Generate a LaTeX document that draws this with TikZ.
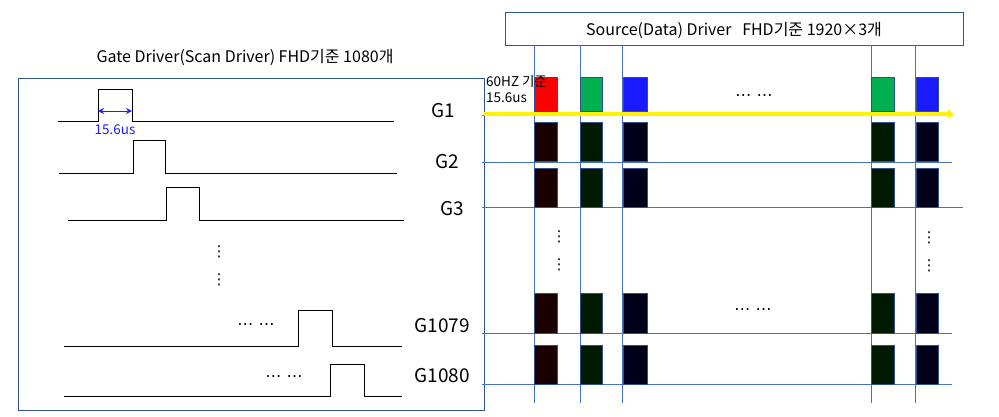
\documentclass[tikz,border=0pt]{standalone}
\usepackage{fontspec}
\setmainfont{Noto Sans CJK KR}
\newfontfamily\symfont{DejaVu Sans}
\usetikzlibrary{arrows.meta}

\definecolor{gridc}{HTML}{4472C4}
\definecolor{framec}{HTML}{2F5597}
\definecolor{cellc}{HTML}{2F528F}
\definecolor{rr}{HTML}{FF0000}
\definecolor{gg}{HTML}{00B050}
\definecolor{bb}{HTML}{1A1AFF}
\definecolor{dr}{HTML}{1A0000}
\definecolor{dg}{HTML}{001A00}
\definecolor{db}{HTML}{00001A}
\definecolor{pulsec}{HTML}{1F1FFF}

\tikzset{
  frame/.style={draw=framec, line width=0.9pt},
  grid line/.style={draw=gridc, line width=0.8pt},
  cell/.style={draw=cellc, line width=0.8pt},
  title/.style={font=\fontsize{16}{18}\selectfont, inner sep=0pt},
  glabel/.style={font=\fontsize{19}{21}\selectfont, inner sep=0pt},
  small/.style={font=\fontsize{13.5}{15}\selectfont, inner sep=0pt},
  vdots/.style={font=\symfont\fontsize{15}{15}\selectfont, inner sep=0pt},
  hdots/.style={font=\symfont\fontsize{16}{16}\selectfont, inner sep=0pt}
}

\begin{document}
\begin{tikzpicture}[x=1pt, y=-1pt]
  \useasboundingbox (0,0) rectangle (999,416);

  % Gate driver side
  \draw[frame] (18,78) rectangle (484,410);
  \node[title] (gtitle) at (245,57) {Gate Driver(Scan Driver) FHD기준 1080개};

  % Gate pulses
  \foreach \yb/\yh/\xa/\xr/\xf/\xb in {121/89/58/98/132/394, 173/140/59/133/165/397,
      220/187/68/166/199/404, 346/310/64/298/332/402, 396/364/64/330/364/402}
    \draw[line width=0.8pt] (\xa,\yb) -- (\xr,\yb) -- (\xr,\yh) -- (\xf,\yh) -- (\xf,\yb) -- (\xb,\yb);

  % Pulse width
  \coordinate (pl) at (98,111);
  \coordinate (pr) at (132,111);
  \draw[pulsec, line width=1pt, {Stealth[length=6pt, width=6pt]}-{Stealth[length=6pt, width=6pt]}] (pl) -- (pr);
  \node[small, text=pulsec] (pw) at (115,130) {15.6us};

  % Gate labels
  \node[glabel] (g1) at (443,111) {G1};
  \node[glabel] (g2) at (447,162) {G2};
  \node[glabel] (g3) at (452,209) {G3};
  \node[glabel] (g1079) at (442,326) {G1079};
  \node[glabel] (g1080) at (442,376) {G1080};

  \node[vdots] (gv1) at (219,252) {⋮};
  \node[vdots] (gv2) at (219,280) {⋮};
  \node[hdots] (gh1) at (256,327) {⋯ ⋯};
  \node[hdots] (gh2) at (284,379) {⋯ ⋯};

  % Source driver side
  \draw[frame] (505,12) rectangle (963,45);
  \node[title] (stitle) at (734,30) {Source(Data) Driver\ \ \ FHD기준 1920×3개};

  \foreach \x in {534,580,622,871,915}
    \draw[grid line] (\x,45) -- (\x,403);
  \foreach \y/\xe in {115/952, 162/952, 207/963, 333/952, 384/952}
    \draw[grid line] (482,\y) -- (\xe,\y);

  % Pixel cells
  \foreach \xa/\xb/\c in {534/557/rr, 580/602/gg, 623/647/bb, 871/894/gg, 916/938/bb}
    \draw[cell, fill=\c] (\xa,77) rectangle (\xb,111);
  \foreach \ya/\yb in {122/161, 168/207, 293/333, 345/384}
    \foreach \xa/\xb/\c in {534/557/dr, 580/602/dg, 623/647/db, 871/894/dg, 916/938/db}
      \draw[cell, fill=\c] (\xa,\ya) rectangle (\xb,\yb);

  % Scan direction
  \coordinate (ys) at (484,114);
  \coordinate (ye) at (954,114);
  \draw[yellow, line width=4.5pt, -{Triangle[length=6pt, width=9pt]}] (ys) -- (ye);

  \node[small, anchor=west] (hz) at (486,81) {60HZ 기준};
  \node[small, anchor=west] (hzt) at (486,98) {15.6us};

  \node[vdots] (sv1) at (559,237) {⋮};
  \node[vdots] (sv2) at (559,265) {⋮};
  \node[vdots] (sv3) at (929,238) {⋮};
  \node[vdots] (sv4) at (929,266) {⋮};
  \node[hdots] (sh1) at (754,98) {⋯ ⋯};
  \node[hdots] (sh2) at (753,312) {⋯ ⋯};
\end{tikzpicture}
\end{document}
